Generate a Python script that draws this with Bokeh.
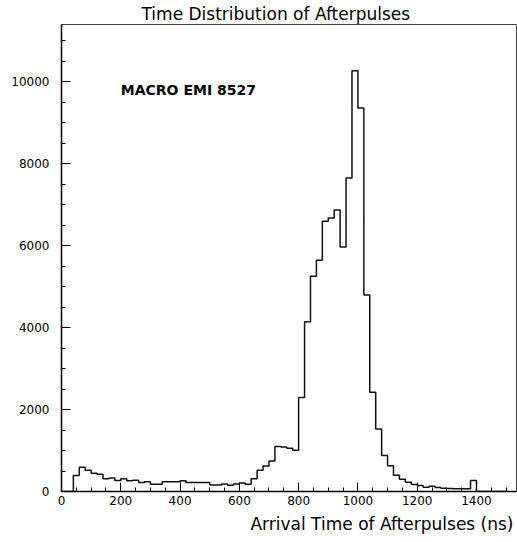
from bokeh.plotting import figure
from bokeh.models import Label, SingleIntervalTicker, Range1d, Title
from bokeh.embed import file_html
from bokeh.resources import INLINE

# ---- data (bin width 20 ns, left edges 0..1480) ----
bin_width = 20
bin_left = list(range(0, 1500, bin_width))
counts = [
    0, 0, 390, 590, 520, 445, 420, 310, 330, 270,          # 0-180
    310, 260, 275, 220, 235, 180, 180, 235, 235, 235,      # 200-380
    265, 220, 220, 220, 220, 160, 160, 185, 155, 185,      # 400-580
    210, 180, 310, 520, 625, 745, 1100, 1085, 1055, 1005,  # 600-780
    2295, 4145, 5255, 5645, 6595, 6675, 6870, 5970, 7650, 10270,  # 800-980
    9360, 4795, 2425, 1525, 876, 630, 395, 300, 225, 170,  # 1000-1180
    146, 105, 130, 97, 81, 73, 65, 65, 65, 268,            # 1200-1380
    0, 0, 0, 0, 0,                                         # 1400-1480
]
title_text = "Time Distribution of Afterpulses"
xlabel_text = "Arrival Time of Afterpulses (ns)"
note_text = "MACRO EMI 8527"

edges = bin_left + [bin_left[-1] + bin_width]
step_y = counts + [0]

FONT = "DejaVu Sans"

p = figure(width=517, height=542,
           x_range=Range1d(0, 1535), y_range=Range1d(0, 11400),
           output_backend="svg", toolbar_location=None,
           min_border_left=61, min_border_right=1,
           min_border_top=23, min_border_bottom=51)
p.title = Title(text=title_text, align="left", offset=80, standoff=2,
                text_font=FONT, text_font_size="17px",
                text_font_style="normal", text_color="black")
p.add_layout(Title(text=xlabel_text, align="right", offset=3, standoff=8,
                   text_font=FONT, text_font_size="17px",
                   text_font_style="normal", text_color="black"), "below")
p.grid.visible = False
p.background_fill_color = "white"
p.border_fill_color = "white"
p.outline_line_color = "#444444"
p.outline_line_width = 1

p.xaxis.ticker = SingleIntervalTicker(interval=200, num_minor_ticks=4)
p.yaxis.ticker = SingleIntervalTicker(interval=2000, num_minor_ticks=4)
for ax in (p.xaxis[0], p.yaxis[0]):
    ax.major_tick_in = 9
    ax.major_tick_out = 0
    ax.minor_tick_in = 4
    ax.minor_tick_out = 0
    ax.axis_line_color = "black"
    ax.axis_line_width = 1.5
    ax.major_tick_line_color = "black"
    ax.minor_tick_line_color = "black"
    ax.major_label_text_font = FONT
    ax.major_label_text_font_size = "12px"
    ax.major_label_text_color = "black"
p.xaxis.major_label_standoff = 4
p.yaxis.major_label_standoff = 12

p.step(x=edges, y=step_y, mode="after", line_color="#111111", line_width=1.5)

p.add_layout(Label(x=200, y=9800, text=note_text, text_align="left",
                   text_baseline="middle", text_font=FONT,
                   text_font_size="14px", text_font_style="bold",
                   text_color="black"))

open("out.html", "w").write(file_html(p, INLINE))
